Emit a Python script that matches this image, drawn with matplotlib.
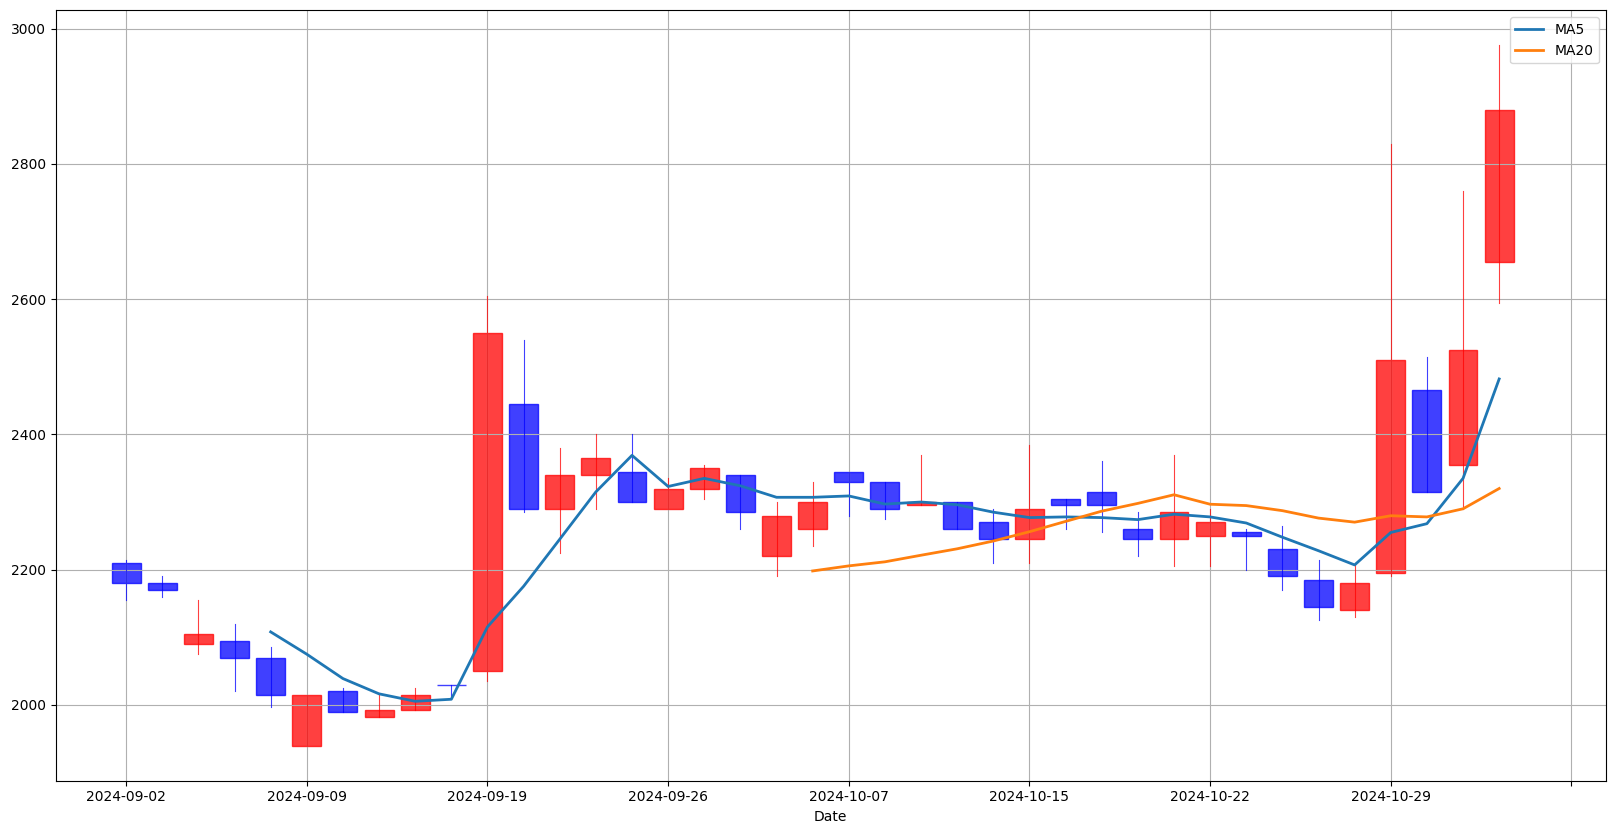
import pandas as pd
import matplotlib.pyplot as plt
from matplotlib.patches import Rectangle

dates = [
    "2024-09-02", "2024-09-03", "2024-09-04", "2024-09-05", "2024-09-06",
    "2024-09-09", "2024-09-10", "2024-09-11", "2024-09-12", "2024-09-13",
    "2024-09-19", "2024-09-20", "2024-09-23", "2024-09-24", "2024-09-25",
    "2024-09-26", "2024-09-27", "2024-09-30", "2024-10-02", "2024-10-04",
    "2024-10-07", "2024-10-08", "2024-10-10", "2024-10-11", "2024-10-14",
    "2024-10-15", "2024-10-16", "2024-10-17", "2024-10-18", "2024-10-21",
    "2024-10-22", "2024-10-23", "2024-10-24", "2024-10-25", "2024-10-28",
    "2024-10-29", "2024-10-30", "2024-10-31", "2024-11-01",
]
opens = [2210, 2180, 2090, 2095, 2070, 1940, 2020, 1982, 1992, 2030,
         2050, 2445, 2290, 2340, 2345, 2290, 2320, 2340, 2220, 2260,
         2345, 2330, 2295, 2300, 2270, 2245, 2305, 2315, 2260, 2245,
         2250, 2255, 2230, 2185, 2140, 2195, 2465, 2355, 2655]
closes = [2180, 2170, 2105, 2070, 2015, 2015, 1990, 1992, 2015, 2030,
          2550, 2290, 2340, 2365, 2300, 2320, 2350, 2285, 2280, 2300,
          2330, 2290, 2300, 2260, 2245, 2290, 2295, 2295, 2245, 2285,
          2270, 2250, 2190, 2145, 2180, 2510, 2315, 2525, 2880]
highs = [2215, 2190, 2155, 2120, 2085, 2015, 2025, 2017, 2025, 2030,
         2605, 2540, 2380, 2400, 2400, 2335, 2355, 2340, 2300, 2330,
         2345, 2330, 2370, 2300, 2290, 2385, 2305, 2360, 2285, 2370,
         2290, 2260, 2265, 2215, 2210, 2830, 2515, 2760, 2975]
lows = [2155, 2160, 2075, 2020, 1997, 1940, 1990, 1982, 1992, 2010,
        2035, 2285, 2225, 2290, 2300, 2290, 2305, 2260, 2190, 2235,
        2280, 2275, 2295, 2260, 2210, 2210, 2260, 2255, 2220, 2205,
        2205, 2200, 2170, 2125, 2130, 2190, 2315, 2290, 2595]

df = pd.DataFrame({"date": dates, "open": opens, "high": highs,
                   "low": lows, "close": closes})
df["MA5"] = df["close"].rolling(5).mean()
df["MA20"] = df["close"].rolling(20).mean()

fig = plt.figure(figsize=(16.14, 8.33), dpi=100)
ax = fig.add_axes([0.0345, 0.0628, 0.9604, 0.9248])

width = 0.8
for i, row in df.iterrows():
    color = "red" if row["close"] > row["open"] else "blue"
    ax.plot([i, i], [row["low"], row["high"]], color=color, linewidth=0.8, alpha=0.75)
    bottom = min(row["open"], row["close"])
    height = abs(row["close"] - row["open"])
    ax.add_patch(Rectangle((i - width / 2, bottom), width, height,
                           facecolor=color, edgecolor=color, alpha=0.75))

ax.plot(df.index, df["MA5"], label="MA5", linewidth=2)
ax.plot(df.index, df["MA20"], label="MA20", linewidth=2)

ticks = list(range(0, 41, 5))
ax.set_xticks(ticks)
ax.set_xticklabels([dates[t] if t < len(dates) else "" for t in ticks])
ax.set_xlim(-1.95, 40.95)
ax.set_ylim(1888, 3027)
ax.set_xlabel("Date")
ax.grid(True)
ax.legend(loc="upper right")

plt.savefig("out.png")
